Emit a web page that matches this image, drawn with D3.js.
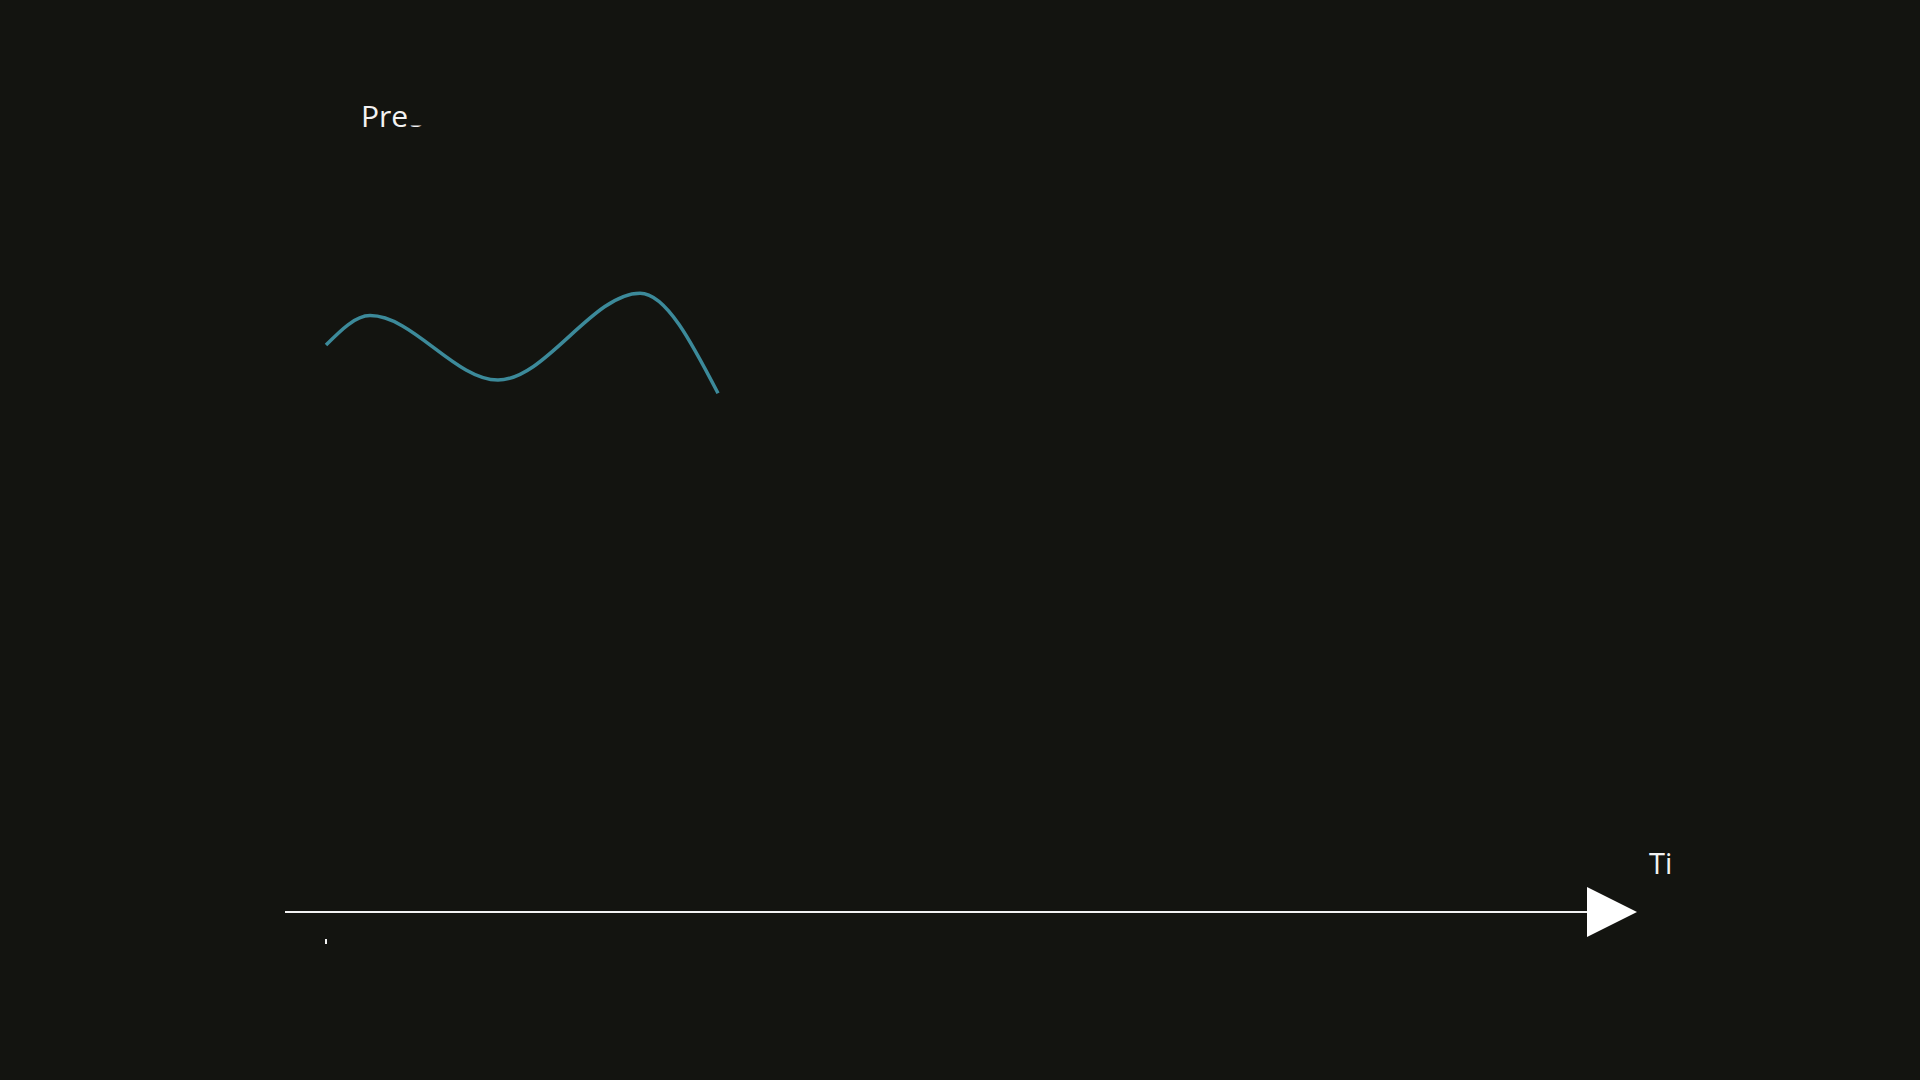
<!DOCTYPE html>
<html>
<head>
<meta charset="utf-8">
<script src="https://cdn.jsdelivr.net/npm/d3@7"></script>
<style>
  html, body { margin: 0; padding: 0; background: #131410; }
  svg { display: block; }
  text { font-family: "Open Sans", "Noto Sans", sans-serif; fill: #f2f2f2; }
</style>
</head>
<body>
<svg id="chart" width="1920" height="1080"></svg>
<script>
// ---- data (frame of an animated reveal) ----
const times     = [0, 3.67, 14.33, 26.17, 32.67];
const pressure  = [81, 85.2, 76, 88.4, 74.1];
const titleShown = "Pre";
const titleNext  = "s";
const xLabelShown = "Ti";
const tickValues = [0];

const W = 1920, H = 1080;
const svg = d3.select("#chart");
svg.append("rect").attr("width", W).attr("height", H).attr("fill", "#131410");

const x = d3.scaleLinear().domain([0, 100]).range([326, 1526]);
const y = d3.scaleLinear().domain([0, 100]).range([912, 212]);

const axisY = y(0);

// x axis line with arrow
svg.append("line")
  .attr("x1", 285).attr("x2", 1590)
  .attr("y1", axisY).attr("y2", axisY)
  .attr("stroke", "#f2f2f2").attr("stroke-width", 2);
svg.append("path")
  .attr("d", `M1587,${axisY - 25} L1637,${axisY} L1587,${axisY + 25} Z`)
  .attr("fill", "#ffffff");

// tick fragments
svg.selectAll("line.tick").data(tickValues).join("line")
  .attr("class", "tick")
  .attr("x1", d => x(d)).attr("x2", d => x(d))
  .attr("y1", axisY + 27).attr("y2", axisY + 32)
  .attr("stroke", "#f2f2f2").attr("stroke-width", 2);

// x axis label (partially typed)
svg.append("text")
  .attr("x", 1649).attr("y", 874)
  .attr("font-size", 29)
  .text(xLabelShown);

// title (partially typed)
const title = svg.append("text")
  .attr("x", 361).attr("y", 127)
  .attr("font-size", 30)
  .text(titleShown);
const tw = title.node().getComputedTextLength();

// partially revealed next glyph
const defs = svg.append("defs");
defs.append("clipPath").attr("id", "glyphClip")
  .append("rect").attr("x", 361 + tw - 2).attr("y", 125.5).attr("width", 30).attr("height", 8);
svg.append("text")
  .attr("x", 361 + tw + 1).attr("y", 127)
  .attr("font-size", 30)
  .attr("clip-path", "url(#glyphClip)")
  .text(titleNext);

// line
const line = d3.line()
  .x((d, i) => x(times[i]))
  .y((d, i) => y(pressure[i]))
  .curve(d3.curveMonotoneX);

svg.append("path")
  .datum(times)
  .attr("d", line)
  .attr("fill", "none")
  .attr("stroke", "#3c8a9a")
  .attr("stroke-width", 3.5)
  .attr("stroke-linecap", "butt");
</script>
</body>
</html>
